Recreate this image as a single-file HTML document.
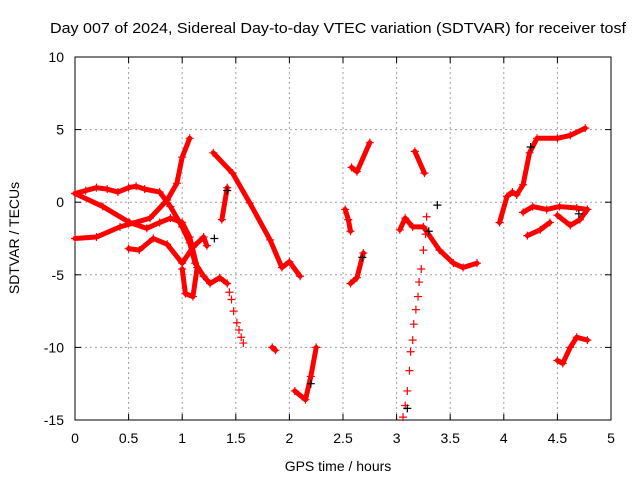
<!DOCTYPE html>
<html><head><meta charset="utf-8"><style>
body{margin:0;background:#fff}
svg{display:block;font-family:"Liberation Sans",sans-serif}
</style></head><body>
<svg id="c" width="640" height="480"></svg>
<script>
const xTicks=[0,0.5,1,1.5,2,2.5,3,3.5,4,4.5,5];
const xTickLabels=["0","0.5","1","1.5","2","2.5","3","3.5","4","4.5","5"];
const yTicks=[10,5,0,-5,-10,-15];
const yTickLabels=["10","5","0","-5","-10","-15"];
const trackA=[[0,0.6],[0.1,0.8],[0.2,1.0],[0.3,0.9],[0.4,0.7],[0.5,1.0],[0.57,1.1],[0.65,0.9],[0.79,0.7],[0.89,-0.3],[1.0,-1.7],[1.07,-2.8],[1.12,-4.2],[1.2,-5.1],[1.26,-5.6],[1.35,-5.2],[1.42,-5.6]];
const trackA2=[[1.44,-6.2],[1.46,-6.7],[1.48,-7.5],[1.51,-8.3],[1.53,-8.8],[1.55,-9.3],[1.57,-9.7]];
const trackB=[[0,0.6],[0.26,-0.3],[0.51,-1.4],[0.67,-1.8],[0.79,-1.4],[0.89,-1.1],[1.0,-1.4],[1.07,-2.4],[1.14,-4.5],[1.1,-6.5],[1.03,-6.3],[1.0,-4.6]];
const trackC=[[0,-2.5],[0.2,-2.4],[0.42,-1.7],[0.7,-1.1],[0.86,0.15],[0.95,1.3],[1.0,3.1],[1.07,4.4]];
const trackD=[[0.5,-3.2],[0.6,-3.3],[0.73,-2.5],[0.86,-2.9],[1.0,-4.2],[1.1,-3.1],[1.2,-2.4],[1.23,-3.0]];
const trackE=[[1.29,3.4],[1.47,2.0],[1.63,-0.05],[1.82,-2.6],[1.93,-4.5],[2.0,-4.1],[2.1,-5.1]];
const trackF=[[1.37,-1.2],[1.42,1.0]];
const trackG=[[1.84,-10],[1.87,-10.2]];
const trackH=[[2.05,-13],[2.15,-13.6],[2.2,-12],[2.25,-10]];
const trackI=[[2.52,-0.5],[2.55,-1.2],[2.57,-2.0]];
const trackJ=[[2.58,2.4],[2.63,2.1],[2.75,4.1]];
const trackK=[[2.57,-5.6],[2.63,-5.2],[2.69,-3.5]];
const trackL=[[3.06,-14.8],[3.08,-14.0],[3.1,-13.0],[3.12,-11.6],[3.13,-10.3],[3.15,-9.5],[3.16,-8.4],[3.18,-7.4],[3.2,-6.5],[3.21,-5.5],[3.23,-4.6],[3.25,-3.3],[3.27,-2.2],[3.28,-1.0]];
const trackM=[[3.03,-1.9],[3.08,-1.1],[3.15,-1.7],[3.25,-1.7],[3.4,-3.3],[3.53,-4.2],[3.62,-4.5],[3.75,-4.2]];
const trackN=[[3.17,3.5],[3.26,2.0]];
const trackO=[[3.96,-1.4],[4.03,0.4],[4.08,0.7],[4.12,0.5],[4.18,1.2],[4.24,3.4],[4.31,4.4],[4.5,4.4],[4.62,4.6],[4.76,5.1]];
const trackP=[[4.18,-0.7],[4.27,-0.3],[4.4,-0.5],[4.52,-0.3],[4.68,-0.4],[4.78,-0.5]];
const trackQ=[[4.5,-0.9],[4.62,-1.6],[4.71,-1.2],[4.78,-0.5]];
const trackR=[[4.22,-2.3],[4.34,-1.9],[4.43,-1.4]];
const trackS=[[4.5,-10.9],[4.55,-11.1],[4.62,-10.0],[4.68,-9.3],[4.78,-9.5]];
const blackPts=[[1.42,0.8],[1.3,-2.5],[2.2,-12.5],[2.68,-3.8],[3.38,-0.2],[3.3,-2.0],[4.25,3.8],[4.7,-0.8],[3.1,-14.2]];
const denseTracks=[trackA,trackB,trackC,trackD,trackE,trackF,trackG,trackH,trackI,trackJ,trackK,trackM,trackN,trackO,trackP,trackQ,trackR,trackS];
const sparseTracks=[trackA2,trackL];
const L=75,R=611,T=57,B=420;
const X=h=>L+(h-0)/(5-0)*(R-L);
const Y=v=>T+(10-v)/(25)*(B-T);
const ns="http://www.w3.org/2000/svg";
const svg=document.getElementById('c');
function mk(t,a,p){const e=document.createElementNS(ns,t);for(const k in a)e.setAttribute(k,a[k]);(p||svg).appendChild(e);return e;}
const title=mk('text',{x:338,y:33,'text-anchor':'middle','font-size':15,textLength:576,lengthAdjust:'spacingAndGlyphs',fill:'#000'});


title.textContent='Day 007 of 2024, Sidereal Day-to-day VTEC variation (SDTVAR) for receiver tosf';
const grid=mk('g',{});


xTicks.forEach((t,i)=>{
 if(i>0&&i<xTicks.length-1)mk('line',{x1:X(t),x2:X(t),y1:T,y2:B,stroke:'#a0a0a0','stroke-dasharray':'2,3'},grid);
 mk('line',{x1:X(t),x2:X(t),y1:B,y2:B-6,stroke:'#000'},grid);
 mk('line',{x1:X(t),x2:X(t),y1:T,y2:T+6,stroke:'#000'},grid);
 const tl=mk('text',{x:X(t),y:B+23,'text-anchor':'middle','font-size':14});
 
 
 tl.textContent=xTickLabels[i];
});
yTicks.forEach((t,i)=>{
 if(i>0&&i<yTicks.length-1)mk('line',{x1:L,x2:R,y1:Y(t),y2:Y(t),stroke:'#a0a0a0','stroke-dasharray':'2,3'},grid);
 mk('line',{x1:L,x2:L+6,y1:Y(t),y2:Y(t),stroke:'#000'},grid);
 mk('line',{x1:R,x2:R-6,y1:Y(t),y2:Y(t),stroke:'#000'},grid);
 const tl=mk('text',{x:L-11,y:Y(t)+5,'text-anchor':'end','font-size':14});
 
 
 tl.textContent=yTickLabels[i];
});
const frame=mk('rect',{x:L,y:T,width:R-L,height:B-T,fill:'none',stroke:'#000'});


const xl=mk('text',{x:338,y:471,'text-anchor':'middle','font-size':14});


xl.textContent='GPS time / hours';
const yl=mk('text',{x:0,y:0,'text-anchor':'middle','font-size':14,transform:'translate(19,238) rotate(-90)'});


yl.textContent='SDTVAR / TECUs';
function plus(g,x,y,c){mk('path',{d:`M${x-4},${y}h8M${x},${y-4}v8`,stroke:c,'stroke-width':1.2},g);}
denseTracks.forEach((tr)=>{
 const g=mk('g',{});
 
 
 mk('polyline',{points:tr.map(p=>X(p[0])+','+Y(p[1])).join(' '),fill:'none',stroke:'#f00','stroke-width':5,'stroke-linejoin':'round','stroke-linecap':'round'},g);
 tr.forEach(p=>plus(g,X(p[0]),Y(p[1]),'#f00'));
});
sparseTracks.forEach((tr)=>{
 const g=mk('g',{});
 
 
 tr.forEach(p=>plus(g,X(p[0]),Y(p[1]),'#f00'));
});
const bg=mk('g',{});


blackPts.forEach(p=>plus(bg,X(p[0]),Y(p[1]),'#000'));
</script>
</body></html>
